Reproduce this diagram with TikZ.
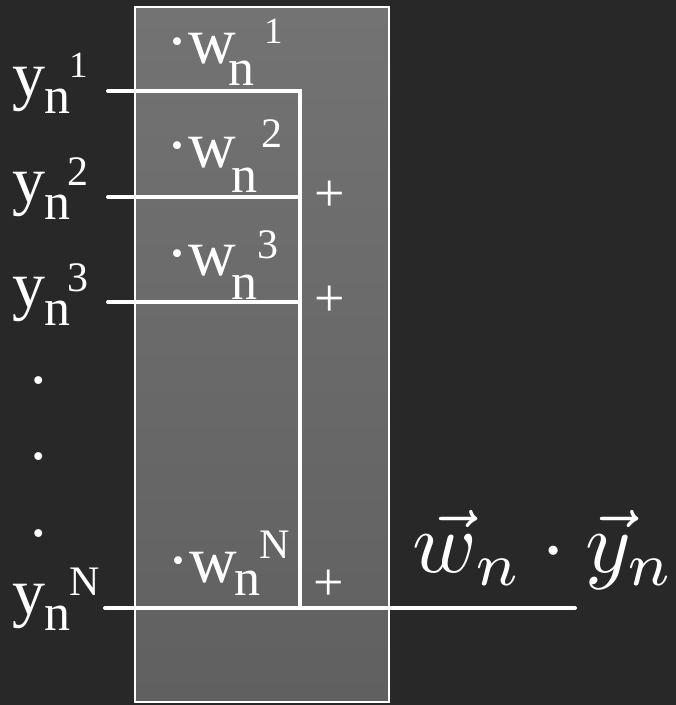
\documentclass[tikz,border=0pt]{standalone}
\usepackage{fontspec}
\setmainfont{Liberation Serif}
\newcommand\myfs[1]{\fontsize{#1}{#1}\selectfont}
\definecolor{bgdark}{HTML}{282828}
\definecolor{boxtop}{HTML}{737373}
\definecolor{boxbot}{HTML}{606060}
\tikzset{
  big/.style={anchor=base west,inner sep=0pt,text=white,font=\myfs{66}},
  subn/.style={anchor=base west,inner sep=0pt,text=white,font=\myfs{52}},
  supk/.style={anchor=base west,inner sep=0pt,text=white,font=\myfs{42}},
  supone/.style={anchor=base west,inner sep=0pt,text=white,font=\myfs{37}},
  wire/.style={draw=white,line width=4pt,line cap=round,line join=miter},
  plussign/.style={inner sep=0pt,text=white,font=\myfs{54}},
  dotmark/.style={inner sep=0pt,text=white,font=\myfs{66}},
}
\begin{document}
\begin{tikzpicture}[x=1pt,y=-1pt]
  \fill[bgdark] (0,0) rectangle (676,705);
  \useasboundingbox (0,0) rectangle (676,705);
  % grey box
  \draw[white,line width=1.3pt,top color=boxtop,bottom color=boxbot] (135,7) rectangle (389,702);
  % coordinates for wires
  \coordinate (s1) at (108,91);
  \coordinate (j1) at (300,91);
  \coordinate (s2) at (108,197);
  \coordinate (j2) at (300,197);
  \coordinate (s3) at (108,302);
  \coordinate (j3) at (300,302);
  \coordinate (sN) at (105,608);
  \coordinate (jN) at (300,608);
  \coordinate (out) at (575,608);
  \draw[wire,line cap=butt] (s1) -- (j1) -- (jN);
  \draw[wire] (s1) -- (j1);
  \draw[wire] (s2) -- (j2);
  \draw[wire] (s3) -- (j3);
  \draw[wire] (sN) -- (out);
  % left labels
  \node[big] (y1) at (12,97) {y};
  \node[subn] (y1n) at (44,113) {n};
  \node[supone] (y1s) at (69,77) {1};
  \node[big] (y2) at (12,202) {y};
  \node[subn] (y2n) at (44,219) {n};
  \node[supk] (y2s) at (67,185) {2};
  \node[big] (y3) at (12,307) {y};
  \node[subn] (y3n) at (44,325) {n};
  \node[supk] (y3s) at (67,291) {3};
  \node[big] (yN) at (12,614) {y};
  \node[subn] (yNn) at (44,630) {n};
  \node[supk] (yNs) at (69,595) {N};
  % vertical dots
  \node[dotmark] (d1) at (39,381) {.};
  \node[dotmark] (d2) at (39,457) {.};
  \node[dotmark] (d3) at (39,534) {.};
  % weight labels
  \node[big] (w1) at (166,63) {·w};
  \node[subn] (w1n) at (228,85) {n};
  \node[supone] (w1s) at (264,43) {1};
  \node[big] (w2) at (166,167) {·w};
  \node[subn] (w2n) at (231,192) {n};
  \node[supk] (w2s) at (261,147) {2};
  \node[big] (w3) at (166,275) {·w};
  \node[subn] (w3n) at (231,299) {n};
  \node[supk] (w3s) at (257,258) {3};
  \node[big] (wN) at (167,582) {·w};
  \node[subn] (wNn) at (234,595) {n};
  \node[supk] (wNs) at (259,558) {N};
  % plus signs
  \node[plussign] (p2) at (330,196) {+};
  \node[plussign] (p3) at (330,301) {+};
  \node[plussign] (pN) at (329,585) {+};
  % result
  \node[anchor=base west,inner sep=0pt,text=white,scale=8.7] (res) at (411,572) {$\vec{w}_n \cdot \vec{y}_n$};
\end{tikzpicture}
\end{document}
